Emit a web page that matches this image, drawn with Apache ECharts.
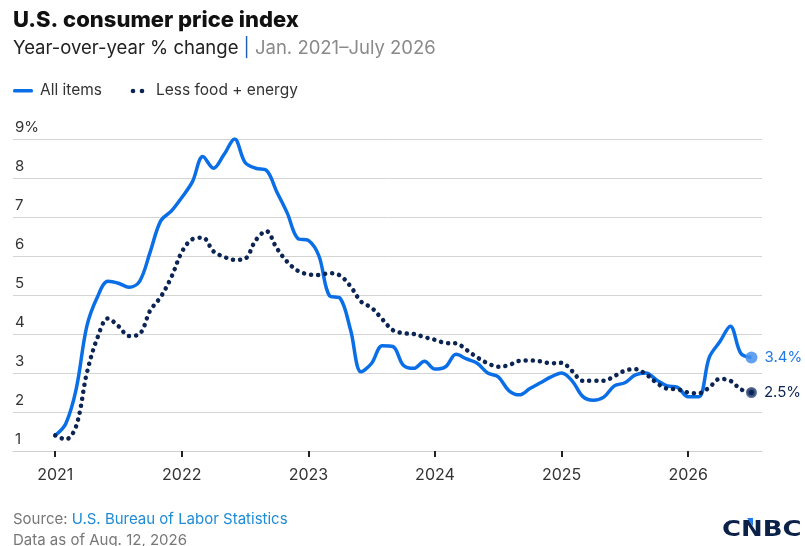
<!DOCTYPE html>
<html lang="en">
<head>
    <meta charset="utf-8">
    <title>U.S. consumer price index</title>
    <script src="https://cdn.jsdelivr.net/npm/echarts@6.0.0/dist/echarts.min.js"></script>
    <style>
        html, body { margin: 0; padding: 0; background: #fff; }
        #main { width: 805px; height: 546px; }
    </style>
</head>
<body>
<div id="main"></div>
<script type="text/javascript">
    // monthly values, Jan. 2021 .. July 2026 (month index 0 = Jan. 2021)
    var allItems = [
        1.4, 1.7, 2.6, 4.2, 4.95, 5.35, 5.3, 5.2, 5.35, 6.1, 6.9, 7.15,
        7.5, 7.9, 8.55, 8.25, 8.6, 9.0, 8.4, 8.25, 8.2, 7.65, 7.1, 6.45,
        6.4, 6.0, 4.98, 4.92, 4.1, 3.03, 3.25, 3.7, 3.68, 3.2, 3.12, 3.3,
        3.1, 3.16, 3.48, 3.36, 3.25, 3.0, 2.9, 2.55, 2.44, 2.6, 2.75, 2.9,
        3.0, 2.8, 2.4, 2.3, 2.38, 2.67, 2.75, 2.95, 3.0, 2.82, 2.67, 2.63,
        2.39, 2.39, 3.4, 3.8, 4.2, 3.5, 3.4
    ];
    var lessFoodEnergy = [
        1.4, 1.3, 1.65, 3.0, 3.9, 4.4, 4.2, 3.95, 4.0, 4.6, 4.95, 5.45,
        6.1, 6.43, 6.47, 6.12, 5.98, 5.9, 5.93, 6.4, 6.64, 6.2, 5.85, 5.62,
        5.53, 5.51, 5.56, 5.5, 5.22, 4.83, 4.67, 4.38, 4.1, 4.02, 4.0, 3.92,
        3.85, 3.77, 3.76, 3.59, 3.4, 3.25, 3.16, 3.2, 3.31, 3.32, 3.3, 3.25,
        3.26, 3.05, 2.8, 2.8, 2.8, 2.92, 3.06, 3.1, 2.97, 2.75, 2.6, 2.58,
        2.5, 2.48, 2.63, 2.85, 2.8, 2.58, 2.5
    ];
    var yearTicks = [0, 12, 24, 36, 48, 60];
    var yearLabels = ['2021', '2022', '2023', '2024', '2025', '2026'];
    var endLabels = ['3.4%', '2.5%'];

    var blue = '#0a6fe6';
    var navy = '#0b2454';
    var font = 'Inter';

    function toPoints(values, endStyle, endSize, endLabel, labelColor) {
        var pts = [];
        for (var i = 0; i < values.length; i++) {
            if (i === values.length - 1) {
                pts.push({
                    value: [i, values[i]],
                    symbol: 'circle',
                    symbolSize: endSize,
                    itemStyle: endStyle,
                    label: {
                        show: true, position: 'right', distance: 7,
                        formatter: endLabel, color: labelColor,
                        fontSize: 15, fontFamily: font
                    }
                });
            } else {
                pts.push([i, values[i]]);
            }
        }
        return pts;
    }

    var chart = echarts.init(document.getElementById('main'), null, { renderer: 'canvas' });

    var option = {
        backgroundColor: '#fff',
        animation: false,
        title: {
            text: 'U.S. consumer price index',
            left: 8, top: 4,
            textStyle: { fontFamily: font, fontSize: 22, fontWeight: 800, color: '#111' },
            subtext: '{a|Year-over-year % change }{b||}{c| Jan. 2021\u2013July 2026}',
            itemGap: 8,
            subtextStyle: {
                rich: {
                    a: { fontFamily: font, fontSize: 18.5, color: '#222' },
                    b: { fontFamily: font, fontSize: 18.5, color: '#1d5fb8' },
                    c: { fontFamily: font, fontSize: 18.5, color: '#8a8a8a' }
                }
            }
        },
        grid: { left: 13, right: 43, top: 139, bottom: 95 },
        xAxis: {
            type: 'value',
            min: -4, max: 67,
            splitLine: { show: false },
            axisLine: { show: true, lineStyle: { color: '#cfcfcf', width: 1 } },
            axisTick: {
                show: true, customValues: yearTicks, length: 6,
                lineStyle: { color: '#222', width: 2 }
            },
            axisLabel: {
                customValues: yearTicks, margin: 16,
                fontFamily: font, fontSize: 16, color: '#333',
                formatter: function (v) { return yearLabels[yearTicks.indexOf(v)]; }
            }
        },
        yAxis: {
            type: 'value',
            min: 1, max: 9, interval: 1,
            axisLine: { show: false },
            axisTick: { show: false },
            splitLine: { lineStyle: { color: '#d4d4d4', width: 1 } },
            axisLabel: {
                inside: true, margin: 2, verticalAlign: 'bottom',
                padding: [0, 0, 4, 0],
                fontFamily: font, fontSize: 15, color: '#333',
                formatter: function (v) { return v === 9 ? '9%' : String(v); }
            }
        },
        series: [
            {
                name: 'All items',
                type: 'line',
                smooth: 0.35,
                symbol: 'none',
                showSymbol: true,
                lineStyle: { color: blue, width: 3.5 },
                itemStyle: { color: blue },
                data: toPoints(allItems, { color: 'rgba(70,145,240,0.85)' }, 12, endLabels[0], '#1f78e6'),
                z: 3
            },
            {
                name: 'Less food + energy',
                type: 'line',
                smooth: 0.35,
                symbol: 'none',
                showSymbol: true,
                lineStyle: { color: navy, width: 4.5, type: [0.1, 7], cap: 'round' },
                itemStyle: { color: navy },
                data: toPoints(lessFoodEnergy,
                    { color: navy, borderColor: 'rgba(60,85,130,0.85)', borderWidth: 3 },
                    8, endLabels[1], navy),
                z: 4
            }
        ],
        graphic: [
            // legend
            { type: 'rect', left: 13, top: 89, shape: { width: 20, height: 3.5, r: 1.5 }, style: { fill: blue } },
            { type: 'text', left: 40, top: 82, style: { text: 'All items', fontFamily: font, fontSize: 15.5, fill: '#333' } },
            { type: 'circle', shape: { cx: 133, cy: 91, r: 2.3 }, style: { fill: navy } },
            { type: 'circle', shape: { cx: 142, cy: 91, r: 2.3 }, style: { fill: navy } },
            { type: 'text', left: 156, top: 82, style: { text: 'Less food + energy', fontFamily: font, fontSize: 15.5, fill: '#333' } },
            // source
            {
                type: 'text', left: 13, top: 512,
                style: {
                    text: '{s|Source: }{l|U.S. Bureau of Labor Statistics}',
                    rich: {
                        s: { fontFamily: font, fontSize: 15, fill: '#777' },
                        l: { fontFamily: font, fontSize: 15, fill: '#1e8bd6' }
                    }
                }
            },
            { type: 'text', left: 13, top: 533, style: { text: 'Data as of Aug. 12, 2026', fontFamily: font, fontSize: 15, fill: '#777' } },
            // logo
            { type: 'text', x: 722, y: 519, scaleX: 1.18, style: { text: 'CNBC', fontFamily: 'DejaVu Sans', fontSize: 22, fontWeight: 'bold', fill: '#0c2148' } },
            { type: 'polygon', shape: { points: [[747, 518], [753, 518], [753, 526]] }, style: { fill: '#1e7bf0' }, z: 10 }
        ]
    };

    chart.setOption(option);
</script>
</body>
</html>
